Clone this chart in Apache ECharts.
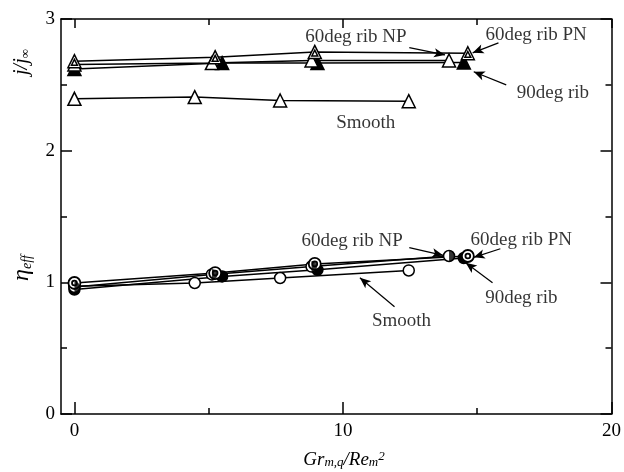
<!DOCTYPE html>
<html><head><meta charset="utf-8">
<script src="https://cdn.jsdelivr.net/npm/echarts@6/dist/echarts.min.js"></script>
<style>html,body{margin:0;padding:0;background:#fff}#c{width:624px;height:472px}</style>
</head><body><div id="c"></div>
<script>
// ---- data ----
var xPN = [0, 5.24, 8.95, 14.65];
var xNP = [0, 5.12, 8.83, 13.95];
var x90 = [0, 5.5, 9.05, 14.5];
var xSmooth = [0, 4.48, 7.66, 12.45];

var jPN = [2.68, 2.71, 2.75, 2.74];
var jNP = [2.655, 2.665, 2.685, 2.685];
var j90 = [2.62, 2.665, 2.665, 2.67];
var jSmooth = [2.394, 2.407, 2.381, 2.376];

var etaPN = [0.995, 1.07, 1.14, 1.20];
var etaNP = [0.965, 1.06, 1.12, 1.20];
var eta90 = [0.945, 1.045, 1.095, 1.185];
var etaSmooth = [0.97, 0.995, 1.033, 1.09];

var xLabels = [0, 10, 20];
var xMinor = [5, 15];
var yLabels = [0, 1, 2, 3];

// annotations: [text, textX, textY, arrowFromX, arrowFromY, arrowToX, arrowToY]
var annotations = [
  ['60deg rib NP', 10.48, 2.866, 12.47, 2.782, 13.8, 2.727],
  ['60deg rib PN', 17.19, 2.88, 15.79, 2.819, 14.83, 2.743],
  ['90deg rib', 17.82, 2.44, 16.08, 2.50, 14.87, 2.599],
  ['Smooth', 10.85, 2.212, null, null, null, null],
  ['60deg rib NP', 10.34, 1.317, 12.47, 1.264, 13.73, 1.205],
  ['60deg rib PN', 16.64, 1.323, 15.86, 1.255, 14.87, 1.19],
  ['90deg rib', 16.64, 0.884, 15.57, 0.997, 14.57, 1.149],
  ['Smooth', 12.18, 0.708, 11.92, 0.815, 10.63, 1.035]
];

var FONT = 'Liberation Serif';
function pairs(xs, ys) { return xs.map(function (x, i) { return [x, ys[i]]; }); }

var dblTri = 'path://M0,-10 L8.66,5 L-8.66,5 Z M0,-4.5 L3.9,2.25 L-3.9,2.25 Z';
var dblCirc = 'path://M0,-10 A10,10 0 1,1 0,10 A10,10 0 1,1 0,-10 Z M0,-4 A4,4 0 1,1 0,4 A4,4 0 1,1 0,-4 Z';
var halfDisc = 'path://M-10,-10 M10,10 M0,-10 A10,10 0 0,1 0,10 Z';

function lineSeries(name, xs, ys, symbol, fill, size, bw) {
  return {
    type: 'line', name: name, data: pairs(xs, ys), symbol: symbol, symbolSize: size,
    showAllSymbol: true,
    lineStyle: { color: '#000', width: 1.5 },
    itemStyle: { color: fill, borderColor: '#000', borderWidth: bw },
    animation: false, z: 3
  };
}

var series = [
  lineSeries('Smooth j', xSmooth, jSmooth, 'triangle', '#fff', 13, 1.5),
  lineSeries('90 j', x90, j90, 'triangle', '#000', 13, 1.5),
  lineSeries('NP j', xNP, jNP, 'triangle', '#fff', 13, 1.5),
  lineSeries('PN j', xPN, jPN, dblTri, '#fff', 13, 1.5),
  lineSeries('Smooth eta', xSmooth, etaSmooth, 'circle', '#fff', 11, 1.5),
  lineSeries('90 eta', x90, eta90, 'circle', '#000', 11, 1.5),
  lineSeries('NP eta', xNP, etaNP, 'circle', '#fff', 11, 1.5),
  {
    type: 'scatter', name: 'NP eta half', data: pairs(xNP, etaNP), symbol: halfDisc,
    symbolSize: 11, itemStyle: { color: '#000' }, animation: false, z: 4
  },
  lineSeries('PN eta', xPN, etaPN, dblCirc, '#fff', 12, 1.8)
];

// annotation text
series.push({
  type: 'scatter', name: 'labels', symbolSize: 0, animation: false, silent: true, z: 5,
  data: annotations.map(function (a) { return { name: a[0], value: [a[1], a[2]] }; }),
  label: {
    show: true, position: 'inside', formatter: '{b}', color: '#000',
    fontFamily: FONT, fontSize: 19
  }
});
// annotation arrows
series.push({
  type: 'line', name: 'arrows', data: [], animation: false, silent: true,
  markLine: {
    silent: true, animation: false, symbol: ['none', 'arrow'], symbolSize: [7, 11],
    lineStyle: { color: '#000', width: 1.2, type: 'solid' }, label: { show: false },
    data: annotations.filter(function (a) { return a[3] !== null; }).map(function (a) {
      return [{ coord: [a[3], a[4]] }, { coord: [a[5], a[6]] }];
    })
  }
});

function xAxisDef(pos, ticks, len, showLabel, showLine) {
  return {
    type: 'value', position: pos, min: -0.5, max: 20,
    axisLine: { show: showLine, onZero: false, lineStyle: { color: '#000', width: 1.5 } },
    axisTick: { show: true, inside: true, length: len, customValues: ticks, lineStyle: { color: '#000', width: 1.5 } },
    axisLabel: { show: showLabel, customValues: xLabels, color: '#000', fontFamily: FONT, fontSize: 19, margin: 8 },
    splitLine: { show: false }
  };
}
function yAxisDef(pos, showLabel) {
  return {
    type: 'value', position: pos, min: 0, max: 3, interval: 1,
    axisLine: { show: true, onZero: false, lineStyle: { color: '#000', width: 1.5 } },
    axisTick: { show: true, inside: true, length: 11, lineStyle: { color: '#000', width: 1.5 } },
    minorTick: { show: true, splitNumber: 2, length: 6, lineStyle: { color: '#000', width: 1.5 } },
    axisLabel: { show: showLabel, color: '#000', fontFamily: FONT, fontSize: 19, margin: 6 },
    splitLine: { show: false }, minorSplitLine: { show: false }
  };
}

var option = {
  backgroundColor: '#fff',
  animation: false,
  grid: { left: 61, right: 7, top: 19, bottom: 58, containLabel: false },
  xAxis: [
    xAxisDef('bottom', xLabels, 12, true, true),
    xAxisDef('bottom', xMinor, 6, false, false),
    xAxisDef('top', xLabels, 9, false, true),
    xAxisDef('top', xMinor, 6, false, false)
  ],
  yAxis: [yAxisDef('left', true), yAxisDef('right', false)],
  series: series,
  graphic: [
    {
      type: 'text', x: 22, y: 62, rotation: Math.PI / 2,
      style: {
        text: '{i|j/j}{s|∞}', textAlign: 'center', textVerticalAlign: 'middle',
        rich: {
          i: { fontFamily: FONT, fontStyle: 'italic', fontSize: 20, fill: '#000', color: '#000' },
          s: { fontFamily: FONT, fontSize: 13, verticalAlign: 'bottom', fill: '#000', color: '#000' }
        }
      }
    },
    {
      type: 'text', x: 22, y: 268, rotation: Math.PI / 2,
      style: {
        text: '{i|η}{s|eff}', textAlign: 'center', textVerticalAlign: 'middle',
        rich: {
          i: { fontFamily: FONT, fontStyle: 'italic', fontSize: 24, fill: '#000', color: '#000' },
          s: { fontFamily: FONT, fontStyle: 'italic', fontSize: 14, verticalAlign: 'bottom', fill: '#000', color: '#000' }
        }
      }
    },
    {
      type: 'text', x: 344, y: 460,
      style: {
        text: '{i|Gr}{s|m,q}{i|/Re}{s|m}{p|2}', textAlign: 'center', textVerticalAlign: 'middle',
        rich: {
          i: { fontFamily: FONT, fontStyle: 'italic', fontSize: 19, fill: '#000', color: '#000' },
          s: { fontFamily: FONT, fontStyle: 'italic', fontSize: 13, verticalAlign: 'bottom', fill: '#000', color: '#000' },
          p: { fontFamily: FONT, fontStyle: 'italic', fontSize: 13, verticalAlign: 'top', fill: '#000', color: '#000' }
        }
      }
    }
  ]
};
var chart = echarts.init(document.getElementById('c'), null, { renderer: 'canvas' });
chart.setOption(option);
</script>
</body></html>
